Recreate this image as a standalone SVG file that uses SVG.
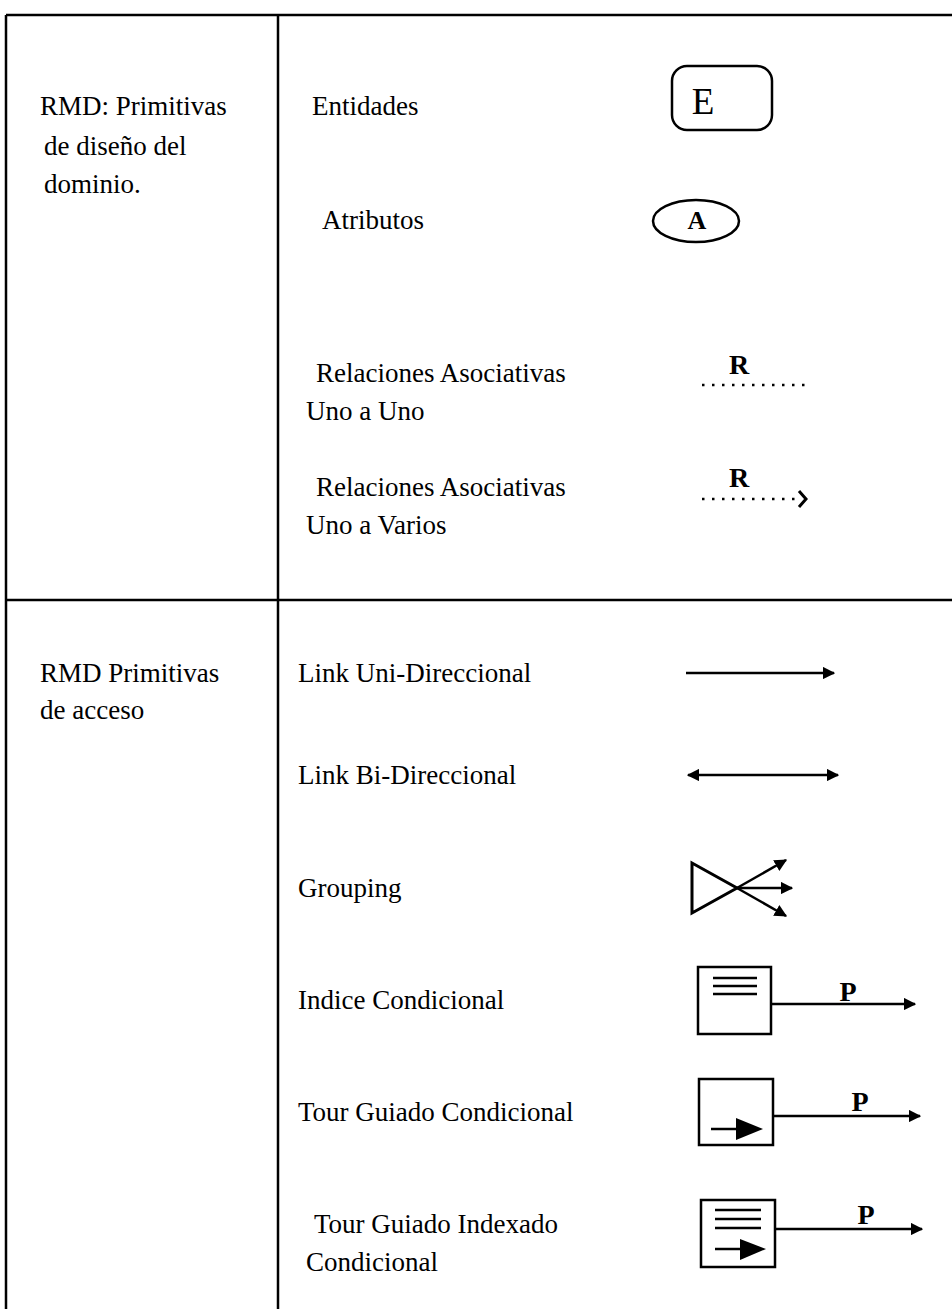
<svg xmlns="http://www.w3.org/2000/svg" width="952" height="1309" viewBox="0 0 952 1309">
  <style>
    .t { font-family: "Liberation Serif", "Times New Roman", serif; font-size: 27px; fill: #000; }
    .sym { font-family: "Liberation Serif", "Times New Roman", serif; fill: #000; text-anchor: middle; }
    .lbl { font-size: 28px; font-weight: bold; }
    .ln { stroke: #000; stroke-width: 2.5; fill: none; }
    .frame { stroke: #000; stroke-width: 2.5; fill: none; }
    .dot { stroke: #000; stroke-width: 2.5; fill: none; stroke-dasharray: 2.5 7.5; }
  </style>
  <defs>
    <marker id="head" viewBox="0 0 10 10" refX="9" refY="5" markerWidth="5" markerHeight="5" orient="auto-start-reverse" markerUnits="strokeWidth">
      <path d="M0,0 L10,5 L0,10 Z" fill="#000"/>
    </marker>
  </defs>

  <!-- table frame -->
  <g id="table">
    <line class="frame" x1="6" y1="15" x2="952" y2="15"/>
    <line class="frame" x1="6" y1="15" x2="6" y2="1309"/>
    <line class="frame" x1="278" y1="15" x2="278" y2="1309"/>
    <line class="frame" x1="6" y1="600" x2="952" y2="600"/>
  </g>

  <!-- row headings -->
  <g id="row-dominio">
    <text class="t" x="40" y="115">RMD: Primitivas</text>
    <text class="t" x="44" y="155">de diseño del</text>
    <text class="t" x="44" y="193">dominio.</text>
  </g>
  <g id="row-acceso">
    <text class="t" x="40" y="682">RMD Primitivas</text>
    <text class="t" x="40" y="719">de acceso</text>
  </g>

  <!-- domain primitives -->
  <g id="entidades">
    <text class="t" x="312" y="115">Entidades</text>
    <rect class="ln" x="672" y="66" width="100" height="64" rx="15"/>
    <text class="sym" x="703" y="114" font-size="37">E</text>
  </g>
  <g id="atributos">
    <text class="t" x="322" y="229">Atributos</text>
    <ellipse class="ln" cx="696" cy="221" rx="43" ry="21"/>
    <text class="sym" x="697" y="229" font-size="26" font-weight="bold">A</text>
  </g>
  <g id="uno-a-uno">
    <text class="t" x="316" y="382">Relaciones Asociativas</text>
    <text class="t" x="306" y="420">Uno a Uno</text>
    <line class="dot" x1="702" y1="385" x2="805" y2="385"/>
    <text class="sym lbl" x="739" y="374">R</text>
  </g>
  <g id="uno-a-varios">
    <text class="t" x="316" y="496">Relaciones Asociativas</text>
    <text class="t" x="306" y="534">Uno a Varios</text>
    <line class="dot" x1="702" y1="499" x2="795" y2="499"/>
    <path d="M799,491 L806,499 L799,507" fill="none" stroke="#000" stroke-width="3"/>
    <text class="sym lbl" x="739" y="487">R</text>
  </g>

  <!-- access primitives -->
  <g id="link-uni">
    <text class="t" x="298" y="682">Link Uni-Direccional</text>
  </g>
  <g id="link-bi">
    <text class="t" x="298" y="784">Link Bi-Direccional</text>
  </g>
  <g id="grouping">
    <text class="t" x="298" y="897">Grouping</text>
    <path d="M692,863 L737,888 L692,913 Z" fill="none" stroke="#000" stroke-width="3"/>
  </g>
  <g id="indice">
    <text class="t" x="298" y="1009">Indice Condicional</text>
    <rect class="ln" x="698" y="967" width="73" height="67"/>
    <line class="ln" x1="713" y1="978" x2="757" y2="978"/>
    <line class="ln" x1="713" y1="986" x2="757" y2="986"/>
    <line class="ln" x1="713" y1="994" x2="757" y2="994"/>
    <text class="sym lbl" x="848" y="1001">P</text>
  </g>
  <g id="tour">
    <text class="t" x="298" y="1121">Tour Guiado Condicional</text>
    <rect class="ln" x="699" y="1079" width="74" height="66"/>
    <line class="ln" x1="711" y1="1129" x2="738" y2="1129"/>
    <path d="M736,1118 L763,1129 L736,1140 Z" fill="#000"/>
    <text class="sym lbl" x="860" y="1111">P</text>
  </g>
  <g id="tour-indexado">
    <text class="t" x="314" y="1233">Tour Guiado Indexado</text>
    <text class="t" x="306" y="1271">Condicional</text>
    <rect class="ln" x="701" y="1200" width="74" height="67"/>
    <line class="ln" x1="715" y1="1210" x2="761" y2="1210"/>
    <line class="ln" x1="715" y1="1219" x2="761" y2="1219"/>
    <line class="ln" x1="715" y1="1228" x2="761" y2="1228"/>
    <line class="ln" x1="715" y1="1249" x2="742" y2="1249"/>
    <path d="M740,1239 L766,1249 L740,1260 Z" fill="#000"/>
    <text class="sym lbl" x="866" y="1224">P</text>
  </g>

  <!-- connectors -->
  <g id="connectors">
    <line class="ln" x1="686" y1="673" x2="834" y2="673" marker-end="url(#head)"/>
    <line class="ln" x1="688" y1="775" x2="838" y2="775" marker-start="url(#head)" marker-end="url(#head)"/>
    <line class="ln" x1="737" y1="888" x2="786" y2="860" marker-end="url(#head)"/>
    <line class="ln" x1="737" y1="888" x2="792" y2="888" marker-end="url(#head)"/>
    <line class="ln" x1="737" y1="888" x2="786" y2="916" marker-end="url(#head)"/>
    <line class="ln" x1="771" y1="1004" x2="915" y2="1004" marker-end="url(#head)"/>
    <line class="ln" x1="773" y1="1116" x2="920" y2="1116" marker-end="url(#head)"/>
    <line class="ln" x1="775" y1="1229" x2="922" y2="1229" marker-end="url(#head)"/>
  </g>
</svg>
